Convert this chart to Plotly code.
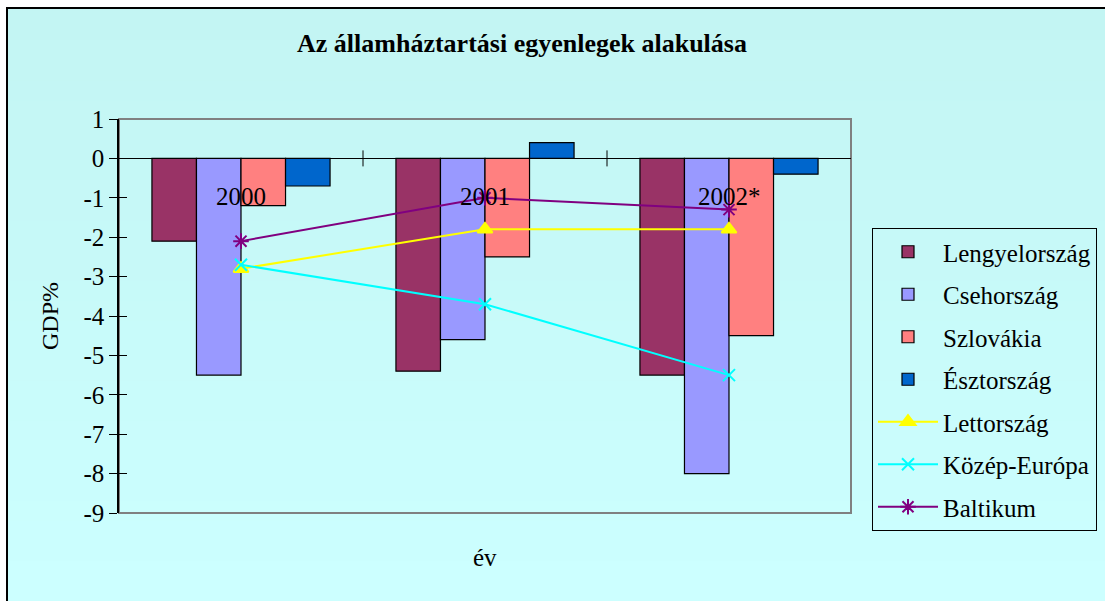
import plotly.graph_objects as go

categories = ["2000", "2001", "2002*"]
lengyel = [-2.1, -5.4, -5.5]
cseh = [-5.5, -4.6, -8.0]
szlovakia = [-1.2, -2.5, -4.5]
esztorszag = [-0.7, 0.4, -0.4]
lettorszag = [-2.8, -1.8, -1.8]
kozep_europa = [-2.7, -3.7, -5.5]
baltikum = [-2.1, -1.0, -1.3]
tick_vals = [1, 0, -1, -2, -3, -4, -5, -6, -7, -8, -9]
tick_text = ["1", "0", "-1", "-2", "-3", "-4", "-5", "-6", "-7", "-8", "-9"]

FONT = "Liberation Serif"
FS = 25
BG = "#C8FAF9"

W, H = 1105, 601
ML, MR, MT, MB = 119, 254, 119, 88
PW, PH = W - ML - MR, H - MT - MB


def px_x(px):
    return (px - ML) / PW


def px_y(py):
    return (H - MB - py) / PH


fig = go.Figure()

bar_series = [
    ("Lengyelország", lengyel, "#993366"),
    ("Csehország", cseh, "#9999FF"),
    ("Szlovákia", szlovakia, "#FF8080"),
    ("Észtország", esztorszag, "#0066CC"),
]
for name, vals, col in bar_series:
    fig.add_trace(go.Bar(
        x=categories, y=vals, name=name, legendgroup=name,
        marker=dict(color=col, line=dict(color="black", width=1.2)),
    ))

line_series = [
    ("Lettország", lettorszag, "#FFFF00", "triangle-up", 13),
    ("Közép-Európa", kozep_europa, "#00FFFF", "x-thin-open", 12),
    ("Baltikum", baltikum, "#800080", "asterisk-open", 13),
]
for name, vals, col, sym, sz in line_series:
    fig.add_trace(go.Scatter(
        x=categories, y=vals, name=name, legendgroup=name, mode="lines+markers",
        line=dict(color=col, width=2),
        marker=dict(symbol=sym, size=sz, color=col, line=dict(color=col, width=2)),
    ))

# category labels near the zero line
for i, c in enumerate(categories):
    fig.add_annotation(x=i, y=0, text=c, showarrow=False, yshift=-38,
                       yanchor="middle",
                       font=dict(family=FONT, size=FS, color="black"))

# cross tick marks on the zero axis between categories
for i in range(len(categories) - 1):
    fig.add_shape(type="line", xref="x", yref="y", x0=i + 0.5, x1=i + 0.5,
                  ysizemode="pixel", yanchor=0, y0=-8, y1=8,
                  line=dict(color="black", width=1))

# subtle vertical background gradient
n_bands = 30
top_c = (195, 245, 243)
bot_c = (204, 255, 255)
for k in range(n_bands):
    t = k / (n_bands - 1)
    col = "rgb({},{},{})".format(*[round(a + (b - a) * t) for a, b in zip(top_c, bot_c)])
    y_top = H * k / n_bands
    y_bot = H * (k + 1) / n_bands + 1
    fig.add_shape(type="rect", xref="paper", yref="paper",
                  x0=px_x(-5), x1=px_x(W + 5), y0=px_y(y_bot), y1=px_y(y_top),
                  fillcolor=col, line=dict(width=0), layer="below")

# white strip outside the chart border (top/left)
fig.add_shape(type="rect", xref="paper", yref="paper", x0=px_x(-5), x1=px_x(6),
              y0=px_y(H + 5), y1=px_y(-5), fillcolor="white", line=dict(width=0), layer="below")
fig.add_shape(type="rect", xref="paper", yref="paper", x0=px_x(-5), x1=px_x(W + 5),
              y0=px_y(7), y1=px_y(-5), fillcolor="white", line=dict(width=0), layer="below")

# plot area border (gray)
fig.add_shape(type="rect", xref="paper", yref="paper", x0=0, x1=1, y0=0, y1=1,
              line=dict(color="#808080", width=2), layer="below")
# outer chart border
fig.add_shape(type="rect", xref="paper", yref="paper", x0=px_x(7), x1=px_x(W + 20),
              y0=px_y(H + 20), y1=px_y(8), line=dict(color="black", width=2))

fig.add_annotation(xref="paper", yref="paper", x=px_x(50), y=px_y(316), text="GDP%",
                   textangle=-90, showarrow=False, xanchor="center", yanchor="middle",
                   font=dict(family=FONT, size=24, color="black"))
fig.add_annotation(xref="paper", yref="paper", x=px_x(485), y=px_y(557), text="év",
                   showarrow=False, xanchor="center", yanchor="middle",
                   font=dict(family=FONT, size=FS, color="black"))

fig.update_layout(
    width=W, height=H,
    margin=dict(l=ML, r=MR, t=MT, b=MB, autoexpand=False),
    paper_bgcolor=BG, plot_bgcolor="rgba(0,0,0,0)",
    font=dict(family=FONT, size=FS, color="black"),
    title=dict(text="<b>Az államháztartási egyenlegek alakulása</b>",
               x=522 / W, xanchor="center", y=1 - 43 / H, yanchor="middle",
               font=dict(family=FONT, size=26, color="black")),
    barmode="group", bargap=0.27, bargroupgap=0,
    showlegend=True,
    legend=dict(x=px_x(872), y=px_y(228), xanchor="left", yanchor="top",
                bgcolor="rgba(0,0,0,0)", bordercolor="black", borderwidth=1,
                tracegroupgap=7, itemwidth=60, traceorder="grouped",
                font=dict(family=FONT, size=FS, color="black")),
    xaxis=dict(type="category", range=[-0.5, 2.5], showticklabels=False, showgrid=False,
               zeroline=False, showline=False, ticks=""),
    yaxis=dict(range=[-9, 1], tickvals=tick_vals, ticktext=tick_text,
               showgrid=False, zeroline=True, zerolinecolor="black", zerolinewidth=1,
               showline=True, linecolor="black", linewidth=1.5,
               ticks="outside", ticklen=8, tickcolor="black", tickwidth=1,
               tickfont=dict(family=FONT, size=FS, color="black")),
    yaxis2=dict(range=[-9, 1], overlaying="y", side="left", tickvals=tick_vals,
                showticklabels=False, showgrid=False, zeroline=False, showline=False,
                ticks="inside", ticklen=8, tickcolor="black", tickwidth=1),
)
# invisible trace to activate yaxis2 (inside tick marks)
fig.add_trace(go.Scatter(x=[categories[0]], y=[0], yaxis="y2", mode="markers",
                         marker=dict(opacity=0), showlegend=False, hoverinfo="skip"))

fig.write_html("out.html", config={"displayModeBar": False},
               post_script="document.body.style.margin='0px';document.body.style.overflow='hidden';")
